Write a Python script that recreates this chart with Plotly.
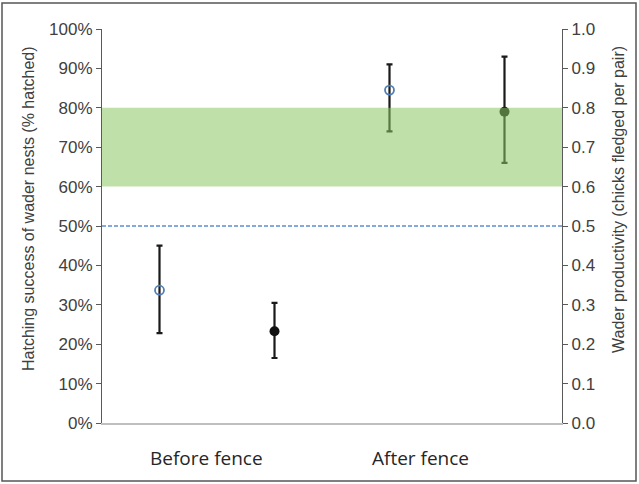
import plotly.graph_objects as go

categories = ["Before fence", "After fence"]
cat_label_x = [0.91, 2.77]

# Hatching success (left axis, fraction)
hatch_x = [0.5, 2.5]
hatch_val = [0.337, 0.845]
hatch_lo = [0.228, 0.740]
hatch_hi = [0.450, 0.910]

# Productivity (right axis, chicks per pair)
prod_x = [1.5, 3.5]
prod_val = [0.233, 0.790]
prod_lo = [0.165, 0.660]
prod_hi = [0.305, 0.930]

target_band = [0.6, 0.8]
threshold = 0.5

left_ticks = [i / 10 for i in range(11)]
right_ticks = [i / 10 for i in range(11)]

L, R, T, B = 102, 562, 29, 423
PW, PH = R - L, B - T


def px(x):
    return (x - L) / PW


def py(y):
    return (B - y) / PH


fig = go.Figure()

fig.add_trace(go.Scatter(
    x=hatch_x, y=hatch_val, mode="markers", yaxis="y",
    marker=dict(symbol="circle-open", size=9, color="#4F7FB8", line=dict(width=1.8)),
    error_y=dict(type="data", symmetric=False,
                 array=[h - v for h, v in zip(hatch_hi, hatch_val)],
                 arrayminus=[v - l for l, v in zip(hatch_lo, hatch_val)],
                 color="#1a1a1a", thickness=2.2, width=3),
    showlegend=False))

fig.add_trace(go.Scatter(
    x=prod_x, y=prod_val, mode="markers", yaxis="y2",
    marker=dict(symbol="circle", size=10, color="#111111"),
    error_y=dict(type="data", symmetric=False,
                 array=[h - v for h, v in zip(prod_hi, prod_val)],
                 arrayminus=[v - l for l, v in zip(prod_lo, prod_val)],
                 color="#1a1a1a", thickness=2.2, width=3),
    showlegend=False))

# green target band (drawn above, translucent)
fig.add_shape(type="rect", xref="paper", yref="y", x0=0, x1=1,
              y0=target_band[0], y1=target_band[1],
              fillcolor="rgba(140,198,100,0.55)", line=dict(width=0), layer="above")
# dashed threshold
fig.add_shape(type="line", xref="paper", yref="y", x0=0, x1=1,
              y0=threshold, y1=threshold,
              line=dict(color="#5B8FD0", width=1.5, dash="4px,2px"))
# outer frame
fig.add_shape(type="rect", xref="paper", yref="paper",
              x0=px(2), x1=px(636), y0=py(481), y1=py(3),
              line=dict(color="#555555", width=1.5), fillcolor="rgba(0,0,0,0)")

tick_font = dict(family="Liberation Sans, Arial, sans-serif", size=17, color="#404040")

fig.update_layout(
    width=639, height=484,
    margin=dict(l=L, r=639 - R, t=T, b=484 - B),
    paper_bgcolor="white", plot_bgcolor="white",
    xaxis=dict(range=[0, 4], showticklabels=False,
               showgrid=False, zeroline=False, showline=True,
               linecolor="#BFBFBF", linewidth=1.5, ticks=""),
    yaxis=dict(range=[0, 1], tickvals=left_ticks, tickformat=".0%",
               showgrid=False, zeroline=False, showline=True,
               linecolor="#595959", linewidth=1.2, ticks="outside",
               ticklen=5, tickcolor="#595959", tickfont=tick_font),
    yaxis2=dict(range=[0, 1], tickvals=right_ticks, tickformat=".1f",
                overlaying="y", side="right",
                showgrid=False, zeroline=False, showline=True,
                linecolor="#595959", linewidth=1.2, ticks="outside",
                ticklen=5, tickcolor="#595959", tickfont=tick_font),
)

cat_font = dict(family="Open Sans, sans-serif", size=19, color="#262626")
for cx, label in zip(cat_label_x, categories):
    fig.add_annotation(text=label, xref="x", yref="paper", x=cx, y=py(458),
                       showarrow=False, font=cat_font,
                       xanchor="center", yanchor="middle")

title_font = dict(family="Liberation Sans, Arial, sans-serif", size=16, color="#404040")
fig.add_annotation(text="Hatching success of wader nests (% hatched)",
                   xref="paper", yref="paper", x=px(28), y=py(209),
                   textangle=-90, showarrow=False, font=title_font,
                   xanchor="center", yanchor="middle")
fig.add_annotation(text="Wader productivity (chicks fledged per pair)",
                   xref="paper", yref="paper", x=px(618), y=py(200),
                   textangle=-90, showarrow=False, font=title_font,
                   xanchor="center", yanchor="middle")

fig.write_html("out.html", config={"displayModeBar": False},
               post_script="document.body.style.margin='0';")
